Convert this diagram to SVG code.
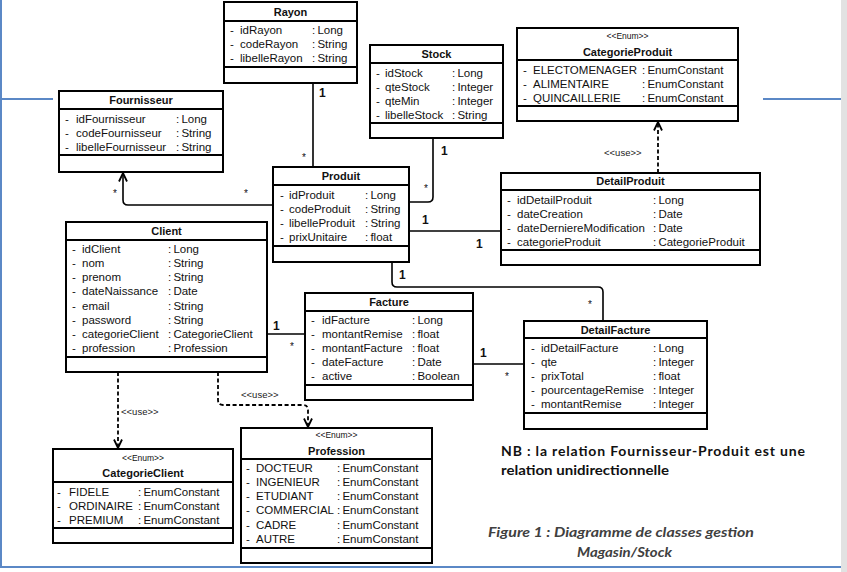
<svg xmlns="http://www.w3.org/2000/svg" width="847" height="572" viewBox="0 0 847 572">
<style>
  .box{fill:#fff;stroke:#000;stroke-width:2}
  .sep{stroke:#000;stroke-width:2}
  .title{font-family:"Liberation Sans",Arial,sans-serif;font-size:11px;font-weight:bold;text-anchor:middle;fill:#111}
  .stereo{font-family:"Liberation Sans",Arial,sans-serif;font-size:8.5px;text-anchor:middle;fill:#111}
  .attr{font-family:"Liberation Sans",Arial,sans-serif;font-size:11.5px;fill:#111;word-spacing:-1px}
  .conn{fill:none;stroke:#000;stroke-width:1.6}
  .dash{fill:none;stroke:#000;stroke-width:1.8;stroke-dasharray:4 2.5}
  .one{font-family:"Liberation Sans",Arial,sans-serif;font-size:12px;font-weight:bold;fill:#111}
  .many{font-family:"Liberation Sans",Arial,sans-serif;font-size:10px;fill:#111}
  .use{font-family:"Liberation Sans",Arial,sans-serif;font-size:9.5px;fill:#222}
  .page{stroke:#5b88c6;stroke-width:2;fill:none}
  .note{font-family:Lato,"Open Sans",sans-serif;font-size:14px;font-weight:bold;fill:#111}
  .cap{font-family:Lato,"Open Sans",sans-serif;font-size:13.5px;font-weight:bold;font-style:italic;fill:#404040}
</style>
<defs>
  <marker id="open" viewBox="0 0 10 10" refX="9.5" refY="5" markerWidth="10" markerHeight="10" markerUnits="userSpaceOnUse" orient="auto">
    <path d="M1,1 L9.5,5 L1,9" fill="none" stroke="#000" stroke-width="1.8"/>
  </marker>
</defs>
<rect x="0" y="0" width="847" height="572" fill="#fff"/>

<!-- page frame -->
<g id="page">
  <rect x="841" y="0" width="6" height="572" fill="#e2e2e2"/>
  <line class="page" x1="1" y1="0" x2="1" y2="567"/>
  <line class="page" x1="0" y1="99" x2="53" y2="99"/>
  <line class="page" x1="763" y1="99" x2="841" y2="99"/>
  <line class="page" x1="0" y1="567" x2="841" y2="567"/>
</g>

<!-- associations and dependencies -->
<g id="connectors">
  <line class="conn" x1="313" y1="83" x2="313" y2="167"/>
  <path class="conn" d="M433,138 V197 Q433,202 428,202 H409"/>
  <line class="conn" x1="409" y1="231" x2="501" y2="231"/>
  <path class="conn" d="M392,262 V282 Q392,287 397,287 H598 Q603,287 603,292 V321"/>
  <line class="conn" x1="267" y1="334" x2="305" y2="334"/>
  <line class="conn" x1="473" y1="364" x2="524" y2="364"/>
  <path class="conn" d="M273,205 H128 Q123,205 123,200 V173" marker-end="url(#open)"/>
  <path class="dash" d="M658,173 V122" marker-end="url(#open)"/>
  <path class="dash" d="M118,372 V448" marker-end="url(#open)"/>
  <path class="dash" d="M218,372 V400 Q218,405 223,405 H303 Q308,405 308,410 V427" marker-end="url(#open)"/>
  <text class="one" x="319" y="97">1</text>
  <text class="many" x="302" y="161">*</text>
  <text class="one" x="441" y="155">1</text>
  <text class="many" x="424" y="192">*</text>
  <text class="one" x="422" y="224">1</text>
  <text class="one" x="476" y="248">1</text>
  <text class="one" x="399" y="279">1</text>
  <text class="many" x="588" y="308">*</text>
  <text class="one" x="273" y="330">1</text>
  <text class="many" x="290" y="350">*</text>
  <text class="one" x="480" y="357">1</text>
  <text class="many" x="505" y="380">*</text>
  <text class="many" x="113" y="197">*</text>
  <text class="many" x="244" y="197">*</text>
  <text class="use" x="604" y="156">&lt;&lt;use&gt;&gt;</text>
  <text class="use" x="121" y="415">&lt;&lt;use&gt;&gt;</text>
  <text class="use" x="241" y="398">&lt;&lt;use&gt;&gt;</text>
</g>

<g id="rayon">
  <rect class="box" x="224" y="2" width="133" height="81"/>
  <line class="sep" x1="224" y1="21" x2="357" y2="21"/>
  <line class="sep" x1="224" y1="67" x2="357" y2="67"/>
  <text class="title" x="290.5" y="16">Rayon</text>
  <text class="attr" y="34"><tspan x="230">-</tspan><tspan x="240">idRayon</tspan><tspan x="312">: Long</tspan></text>
  <text class="attr" y="48"><tspan x="230">-</tspan><tspan x="240">codeRayon</tspan><tspan x="312">: String</tspan></text>
  <text class="attr" y="62"><tspan x="230">-</tspan><tspan x="240">libelleRayon</tspan><tspan x="312">: String</tspan></text>
</g>

<g id="fournisseur">
  <rect class="box" x="59" y="91" width="164" height="81"/>
  <line class="sep" x1="59" y1="109" x2="223" y2="109"/>
  <line class="sep" x1="59" y1="155" x2="223" y2="155"/>
  <text class="title" x="141" y="104">Fournisseur</text>
  <text class="attr" y="123"><tspan x="65">-</tspan><tspan x="76">idFournisseur</tspan><tspan x="176">: Long</tspan></text>
  <text class="attr" y="137"><tspan x="65">-</tspan><tspan x="76">codeFournisseur</tspan><tspan x="176">: String</tspan></text>
  <text class="attr" y="151"><tspan x="65">-</tspan><tspan x="76">libelleFournisseur</tspan><tspan x="176">: String</tspan></text>
</g>

<g id="stock">
  <rect class="box" x="370" y="45" width="133" height="93"/>
  <line class="sep" x1="370" y1="63" x2="503" y2="63"/>
  <line class="sep" x1="370" y1="123" x2="503" y2="123"/>
  <text class="title" x="436.5" y="58">Stock</text>
  <text class="attr" y="76.5"><tspan x="376">-</tspan><tspan x="385">idStock</tspan><tspan x="452">: Long</tspan></text>
  <text class="attr" y="90.5"><tspan x="376">-</tspan><tspan x="385">qteStock</tspan><tspan x="452">: Integer</tspan></text>
  <text class="attr" y="104.5"><tspan x="376">-</tspan><tspan x="385">qteMin</tspan><tspan x="452">: Integer</tspan></text>
  <text class="attr" y="118.5"><tspan x="376">-</tspan><tspan x="385">libelleStock</tspan><tspan x="452">: String</tspan></text>
</g>

<g id="categorieProduit">
  <rect class="box" x="517" y="28" width="221" height="93"/>
  <line class="sep" x1="517" y1="60" x2="738" y2="60"/>
  <line class="sep" x1="517" y1="106" x2="738" y2="106"/>
  <text class="stereo" x="627.5" y="39">&lt;&lt;Enum&gt;&gt;</text>
  <text class="title" x="627.5" y="56">CategorieProduit</text>
  <text class="attr" y="74"><tspan x="523">-</tspan><tspan x="533">ELECTOMENAGER</tspan><tspan x="642">: EnumConstant</tspan></text>
  <text class="attr" y="88"><tspan x="523">-</tspan><tspan x="533">ALIMENTAIRE</tspan><tspan x="642">: EnumConstant</tspan></text>
  <text class="attr" y="102"><tspan x="523">-</tspan><tspan x="533">QUINCAILLERIE</tspan><tspan x="642">: EnumConstant</tspan></text>
</g>

<g id="produit">
  <rect class="box" x="273" y="167" width="136" height="95"/>
  <line class="sep" x1="273" y1="185" x2="409" y2="185"/>
  <line class="sep" x1="273" y1="246" x2="409" y2="246"/>
  <text class="title" x="341" y="180">Produit</text>
  <text class="attr" y="199"><tspan x="280">-</tspan><tspan x="289">idProduit</tspan><tspan x="365">: Long</tspan></text>
  <text class="attr" y="213"><tspan x="280">-</tspan><tspan x="289">codeProduit</tspan><tspan x="365">: String</tspan></text>
  <text class="attr" y="227"><tspan x="280">-</tspan><tspan x="289">libelleProduit</tspan><tspan x="365">: String</tspan></text>
  <text class="attr" y="241"><tspan x="280">-</tspan><tspan x="289">prixUnitaire</tspan><tspan x="365">: float</tspan></text>
</g>

<g id="detailProduit">
  <rect class="box" x="501" y="173" width="259" height="92"/>
  <line class="sep" x1="501" y1="190" x2="760" y2="190"/>
  <line class="sep" x1="501" y1="250" x2="760" y2="250"/>
  <text class="title" x="630.5" y="185">DetailProduit</text>
  <text class="attr" y="204"><tspan x="507">-</tspan><tspan x="517">idDetailProduit</tspan><tspan x="653">: Long</tspan></text>
  <text class="attr" y="218"><tspan x="507">-</tspan><tspan x="517">dateCreation</tspan><tspan x="653">: Date</tspan></text>
  <text class="attr" y="232"><tspan x="507">-</tspan><tspan x="517">dateDerniereModification</tspan><tspan x="653">: Date</tspan></text>
  <text class="attr" y="246"><tspan x="507">-</tspan><tspan x="517">categorieProduit</tspan><tspan x="653">: CategorieProduit</tspan></text>
</g>

<g id="client">
  <rect class="box" x="66" y="222" width="201" height="150"/>
  <line class="sep" x1="66" y1="240" x2="267" y2="240"/>
  <line class="sep" x1="66" y1="357" x2="267" y2="357"/>
  <text class="title" x="166.5" y="235">Client</text>
  <text class="attr" y="253"><tspan x="72">-</tspan><tspan x="82">idClient</tspan><tspan x="168">: Long</tspan></text>
  <text class="attr" y="267"><tspan x="72">-</tspan><tspan x="82">nom</tspan><tspan x="168">: String</tspan></text>
  <text class="attr" y="281"><tspan x="72">-</tspan><tspan x="82">prenom</tspan><tspan x="168">: String</tspan></text>
  <text class="attr" y="295"><tspan x="72">-</tspan><tspan x="82">dateNaissance</tspan><tspan x="168">: Date</tspan></text>
  <text class="attr" y="310"><tspan x="72">-</tspan><tspan x="82">email</tspan><tspan x="168">: String</tspan></text>
  <text class="attr" y="324"><tspan x="72">-</tspan><tspan x="82">password</tspan><tspan x="168">: String</tspan></text>
  <text class="attr" y="338"><tspan x="72">-</tspan><tspan x="82">categorieClient</tspan><tspan x="168">: CategorieClient</tspan></text>
  <text class="attr" y="352"><tspan x="72">-</tspan><tspan x="82">profession</tspan><tspan x="168">: Profession</tspan></text>
</g>

<g id="facture">
  <rect class="box" x="305" y="293" width="168" height="107"/>
  <line class="sep" x1="305" y1="311" x2="473" y2="311"/>
  <line class="sep" x1="305" y1="385" x2="473" y2="385"/>
  <text class="title" x="389" y="306">Facture</text>
  <text class="attr" y="324"><tspan x="311">-</tspan><tspan x="322">idFacture</tspan><tspan x="412">: Long</tspan></text>
  <text class="attr" y="338"><tspan x="311">-</tspan><tspan x="322">montantRemise</tspan><tspan x="412">: float</tspan></text>
  <text class="attr" y="352"><tspan x="311">-</tspan><tspan x="322">montantFacture</tspan><tspan x="412">: float</tspan></text>
  <text class="attr" y="366"><tspan x="311">-</tspan><tspan x="322">dateFacture</tspan><tspan x="412">: Date</tspan></text>
  <text class="attr" y="380"><tspan x="311">-</tspan><tspan x="322">active</tspan><tspan x="412">: Boolean</tspan></text>
</g>

<g id="detailFacture">
  <rect class="box" x="524" y="321" width="183" height="108"/>
  <line class="sep" x1="524" y1="338" x2="707" y2="338"/>
  <line class="sep" x1="524" y1="413" x2="707" y2="413"/>
  <text class="title" x="615.5" y="334">DetailFacture</text>
  <text class="attr" y="352"><tspan x="531">-</tspan><tspan x="541">idDetailFacture</tspan><tspan x="653">: Long</tspan></text>
  <text class="attr" y="366"><tspan x="531">-</tspan><tspan x="541">qte</tspan><tspan x="653">: Integer</tspan></text>
  <text class="attr" y="380"><tspan x="531">-</tspan><tspan x="541">prixTotal</tspan><tspan x="653">: float</tspan></text>
  <text class="attr" y="394"><tspan x="531">-</tspan><tspan x="541">pourcentageRemise</tspan><tspan x="653">: Integer</tspan></text>
  <text class="attr" y="408"><tspan x="531">-</tspan><tspan x="541">montantRemise</tspan><tspan x="653">: Integer</tspan></text>
</g>

<g id="categorieClient">
  <rect class="box" x="53" y="449" width="180" height="94"/>
  <line class="sep" x1="53" y1="482" x2="233" y2="482"/>
  <line class="sep" x1="53" y1="528" x2="233" y2="528"/>
  <text class="stereo" x="143" y="461">&lt;&lt;Enum&gt;&gt;</text>
  <text class="title" x="143" y="477">CategorieClient</text>
  <text class="attr" y="496"><tspan x="57">-</tspan><tspan x="69">FIDELE</tspan><tspan x="138">: EnumConstant</tspan></text>
  <text class="attr" y="510"><tspan x="57">-</tspan><tspan x="69">ORDINAIRE</tspan><tspan x="138">: EnumConstant</tspan></text>
  <text class="attr" y="524"><tspan x="57">-</tspan><tspan x="69">PREMIUM</tspan><tspan x="138">: EnumConstant</tspan></text>
</g>

<g id="profession">
  <rect class="box" x="241" y="428" width="191" height="135"/>
  <line class="sep" x1="241" y1="459" x2="432" y2="459"/>
  <line class="sep" x1="241" y1="548" x2="432" y2="548"/>
  <text class="stereo" x="336.5" y="438">&lt;&lt;Enum&gt;&gt;</text>
  <text class="title" x="336.5" y="455">Profession</text>
  <text class="attr" y="472"><tspan x="246">-</tspan><tspan x="256">DOCTEUR</tspan><tspan x="337">: EnumConstant</tspan></text>
  <text class="attr" y="486"><tspan x="246">-</tspan><tspan x="256">INGENIEUR</tspan><tspan x="337">: EnumConstant</tspan></text>
  <text class="attr" y="500"><tspan x="246">-</tspan><tspan x="256">ETUDIANT</tspan><tspan x="337">: EnumConstant</tspan></text>
  <text class="attr" y="514"><tspan x="246">-</tspan><tspan x="256">COMMERCIAL</tspan><tspan x="337">: EnumConstant</tspan></text>
  <text class="attr" y="529"><tspan x="246">-</tspan><tspan x="256">CADRE</tspan><tspan x="337">: EnumConstant</tspan></text>
  <text class="attr" y="543"><tspan x="246">-</tspan><tspan x="256">AUTRE</tspan><tspan x="337">: EnumConstant</tspan></text>
</g>

<!-- note and caption -->
<g id="note">
  <text class="note" x="501" y="456" textLength="304" lengthAdjust="spacing">NB : la relation Fournisseur-Produit est une</text>
  <text class="note" x="501" y="475" textLength="168" lengthAdjust="spacingAndGlyphs">relation unidirectionnelle</text>
</g>
<g id="caption">
  <text class="cap" x="488" y="537" textLength="266" lengthAdjust="spacingAndGlyphs">Figure 1 : Diagramme de classes gestion</text>
  <text class="cap" x="577" y="557" textLength="95" lengthAdjust="spacingAndGlyphs">Magasin/Stock</text>
</g>
</svg>
